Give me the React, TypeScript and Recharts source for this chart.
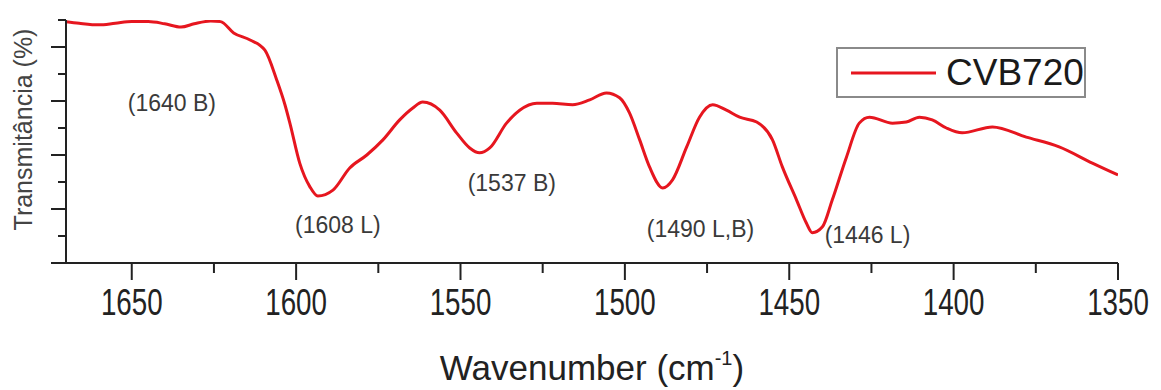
import React from 'react';
import { LineChart, Line, XAxis, YAxis, Legend, ReferenceDot } from 'recharts';

const wavenumbers = [1670, 1666, 1660, 1655, 1650, 1645, 1640, 1635, 1631, 1626, 1623, 1619, 1614, 1609.5, 1605.9, 1603.4, 1601.9, 1598.9, 1595.8, 1593.4, 1588.8, 1583.7, 1578.5, 1573.6, 1568.5, 1564.5, 1561.5, 1556.3, 1551.2, 1547.2, 1544.2, 1541.1, 1536, 1532, 1526.8, 1522, 1515.9, 1510.7, 1505.6, 1501.6, 1498.6, 1495.5, 1492.5, 1488.5, 1485.5, 1481.2, 1477.3, 1473.3, 1469.1, 1465.1, 1459.9, 1455.1, 1452.1, 1447.8, 1444.8, 1443, 1439.9, 1436.9, 1432.6, 1428.7, 1425.6, 1418.6, 1414.4, 1410.4, 1406.5, 1402.2, 1397.4, 1388.2, 1377.9, 1367.9, 1357.8, 1350];
const transmittance = [4.47, 4.44, 4.41, 4.44, 4.47, 4.47, 4.43, 4.37, 4.43, 4.48, 4.47, 4.26, 4.13, 3.94, 3.39, 2.93, 2.59, 1.85, 1.41, 1.24, 1.35, 1.76, 2.0, 2.28, 2.65, 2.87, 2.98, 2.83, 2.41, 2.13, 2.04, 2.13, 2.59, 2.83, 2.96, 2.96, 2.93, 3.02, 3.15, 3.06, 2.78, 2.28, 1.78, 1.39, 1.54, 2.15, 2.7, 2.93, 2.83, 2.7, 2.61, 2.28, 1.78, 1.17, 0.74, 0.56, 0.67, 1.17, 1.96, 2.59, 2.7, 2.59, 2.61, 2.7, 2.65, 2.5, 2.41, 2.52, 2.33, 2.15, 1.85, 1.63];

const xTicks = [1650, 1625, 1600, 1575, 1550, 1525, 1500, 1475, 1450, 1425, 1400, 1375, 1350];
const yTicks = [0, 0.5, 1, 1.5, 2, 2.5, 3, 3.5, 4, 4.5];
const seriesName = 'CVB720';
const xLabel = 'Wavenumber (cm';
const yLabel = 'Transmitância (%)';

const annotationTexts = ['(1640 B)', '(1608 L)', '(1537 B)', '(1490 L,B)', '(1446 L)'];
const annotationW = [1637.8, 1587.3, 1534.4, 1477, 1426.2];
const annotationV = [2.96, 0.7, 1.48, 0.63, 0.52];

const data = wavenumbers.map((w, i) => ({ w, t: transmittance[i] }));

const AXIS = '#222';
const FONT = '"Liberation Sans", Arial, Helvetica, sans-serif';
const RED = '#e6161f';

const isMajorX = (v: number) => v % 50 === 0;
const isMajorY = (v: number) => Number.isInteger(v);

const BottomTick = (props: any) => {
  const { x, y, payload } = props;
  const major = isMajorX(payload.value);
  return (
    <g>
      <line x1={x} x2={x} y1={y} y2={y + (major ? 17 : 10)} stroke={AXIS} strokeWidth={2} />
      {major && (
        <text
          x={0}
          y={0}
          textAnchor="middle"
          fontSize={37}
          fontFamily={FONT}
          fill="#222"
          transform={`translate(${x},${y + 52}) scale(0.75,1)`}
        >
          {payload.value}
        </text>
      )}
    </g>
  );
};

const TopTick = (props: any) => {
  const { x, y, payload } = props;
  const major = isMajorX(payload.value);
  return <line x1={x} x2={x} y1={y} y2={y + (major ? 15 : 8)} stroke={AXIS} strokeWidth={2} />;
};

const LeftTick = (props: any) => {
  const { x, y, payload } = props;
  const major = isMajorY(payload.value);
  return <line x1={x - (major ? 15 : 8)} x2={x} y1={y} y2={y} stroke={AXIS} strokeWidth={2} />;
};

const YLabel = (props: any) => {
  const vb = props.viewBox || { x: 0, y: 20, width: 66, height: 243 };
  const cx = vb.x + 32;
  const cy = vb.y + vb.height / 2 - 12;
  return (
    <text
      x={cx}
      y={cy}
      textAnchor="middle"
      fontSize={25}
      fontFamily={FONT}
      fill="#444"
      transform={`rotate(-90, ${cx}, ${cy})`}
    >
      {yLabel}
    </text>
  );
};

const XLabel = (props: any) => {
  const vb = props.viewBox || { x: 66, y: 263, width: 1052, height: 40 };
  const cx = vb.x + vb.width / 2;
  return (
    <text x={cx} y={vb.y + 117} textAnchor="middle" fontSize={35} fontFamily={FONT} fill="#222">
      {xLabel}
      <tspan dy={-15} fontSize={20}>-1</tspan>
      <tspan dy={15}>)</tspan>
    </text>
  );
};

const renderLegend = (props: any) => {
  const { payload } = props;
  return (
    <div
      style={{
        width: 250,
        height: 51,
        border: '2px solid #8a8a8a',
        boxSizing: 'border-box',
        display: 'flex',
        alignItems: 'center',
        background: '#fff',
      }}
    >
      {(payload || []).map((entry: any, i: number) => (
        <div key={i} style={{ display: 'flex', alignItems: 'center' }}>
          <svg width={99} height={20} style={{ display: 'block' }}>
            <line x1={13} x2={98} y1={10} y2={10} stroke={entry.color} strokeWidth={3} />
          </svg>
          <span
            style={{
              fontFamily: FONT,
              fontSize: 37,
              color: '#1a1a1a',
              marginLeft: 9,
              lineHeight: '40px',
            }}
          >
            {entry.value}
          </span>
        </div>
      ))}
    </div>
  );
};

export default function App() {
  return (
    <div style={{ position: 'absolute', left: 0, top: 0, background: '#fff' }}>
      <LineChart width={1161} height={390} data={data} margin={{ top: 20, right: 43, bottom: 87, left: 0 }}>
        <XAxis
          xAxisId="bottom"
          dataKey="w"
          type="number"
          domain={[1350, 1670]}
          reversed
          allowDataOverflow
          ticks={xTicks}
          interval={0}
          height={40}
          tickSize={0}
          tickMargin={0}
          tickLine={false}
          tick={<BottomTick />}
          axisLine={{ stroke: AXIS, strokeWidth: 2 }}
          label={<XLabel />}
        />
        <XAxis
          xAxisId="top"
          orientation="top"
          dataKey="w"
          type="number"
          domain={[1350, 1670]}
          reversed
          allowDataOverflow
          ticks={xTicks}
          interval={0}
          height={0}
          tickSize={0}
          tickMargin={0}
          tickLine={false}
          tick={<TopTick />}
          axisLine={{ stroke: AXIS, strokeWidth: 2 }}
        />
        <YAxis
          yAxisId="left"
          type="number"
          domain={[0, 4.5]}
          allowDataOverflow
          ticks={yTicks}
          interval={0}
          width={66}
          tickSize={0}
          tickMargin={0}
          tickLine={false}
          tick={<LeftTick />}
          axisLine={{ stroke: AXIS, strokeWidth: 2 }}
          label={<YLabel />}
        />
        <YAxis
          yAxisId="right"
          orientation="right"
          type="number"
          domain={[0, 4.5]}
          allowDataOverflow
          width={0}
          tick={false}
          tickLine={false}
          axisLine={{ stroke: AXIS, strokeWidth: 2 }}
        />
        <Legend
          layout="vertical"
          align="center"
          verticalAlign="middle"
          content={renderLegend}
          wrapperStyle={{ left: 836, top: 47, width: 250, height: 51 }}
        />
        <Line
          xAxisId="bottom"
          yAxisId="left"
          type="monotone"
          dataKey="t"
          name={seriesName}
          stroke={RED}
          strokeWidth={3}
          dot={false}
          isAnimationActive={false}
        />
        {annotationTexts.map((txt, i) => (
          <ReferenceDot
            key={txt}
            xAxisId="bottom"
            yAxisId="left"
            x={annotationW[i]}
            y={annotationV[i]}
            r={1}
            fill="none"
            stroke="none"
            label={{
              content: (p: any) => {
                const vb = p.viewBox || { x: 0, y: 0, width: 0, height: 0 };
                return (
                  <text
                    x={vb.x + (vb.width || 0) / 2}
                    y={vb.y + (vb.height || 0) / 2}
                    textAnchor="middle"
                    dominantBaseline="central"
                    fontSize={23}
                    fontFamily={FONT}
                    fill="#3a3a3a"
                  >
                    {txt}
                  </text>
                );
              },
            }}
          />
        ))}
      </LineChart>
    </div>
  );
}
